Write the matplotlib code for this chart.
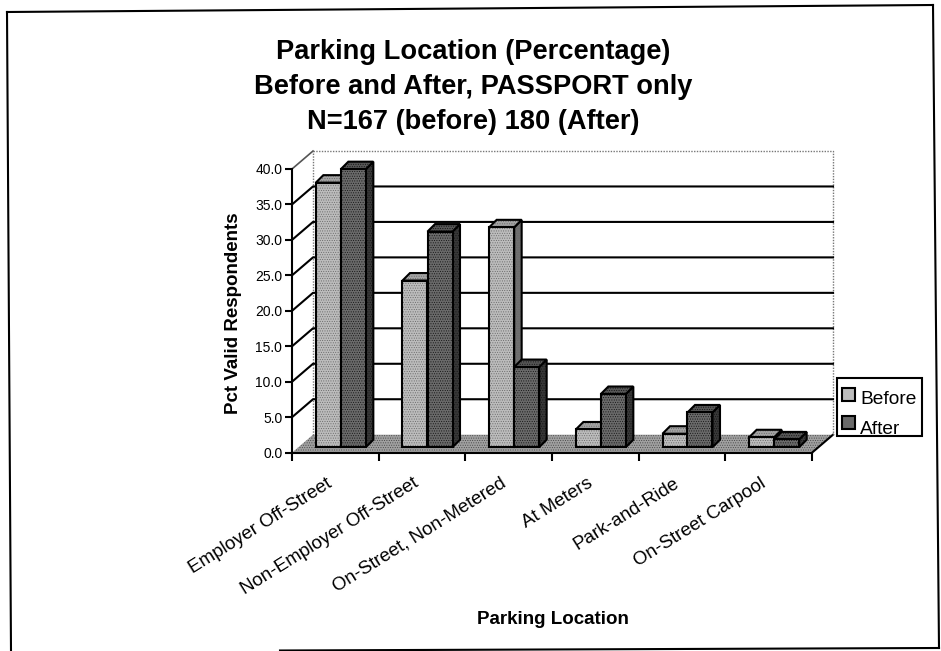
"""
Parking location before and after, fake 3D bars on a matplotlib axes.
"""

import matplotlib
matplotlib.use('Agg')
import matplotlib.pyplot as plt
from matplotlib.lines import Line2D
from matplotlib.patches import Polygon, Rectangle
from matplotlib.transforms import ScaledTranslation

plt.rcParams['font.family'] = ['Liberation Sans', 'DejaVu Sans']
plt.rcParams['hatch.linewidth'] = 0.4

categories = ['Employer Off-Street', 'Non-Employer Off-Street', 'On-Street, Non-Metered',
              'At Meters', 'Park-and-Ride', 'On-Street Carpool']
before = [37.3, 23.5, 31.0, 2.5, 1.9, 1.4]
after = [39.2, 30.4, 11.3, 7.5, 4.9, 1.1]
y_ticks = [0, 5, 10, 15, 20, 25, 30, 35, 40]
title_lines = ['Parking Location (Percentage)', 'Before and After, PASSPORT only',
               'N=167 (before) 180 (After)']

W, H = 941, 651
fig = plt.figure(figsize=(W / 100, H / 100), dpi=100, facecolor='white')


def fx(px):
    return px / W


def fy(px):
    return 1 - px / H


# front plane of the chart, everything else is offset from it in data units
left, right, y0, y40 = 292, 812, 452.7, 169
ax = fig.add_axes([fx(left), fy(y0), (right - left) / W, (y0 - y40) / H])
ax.set_xlim(0, 6)
ax.set_ylim(0, 40)
ax.patch.set_visible(False)

px_x = 6 / (right - left)
px_y = 40 / (y0 - y40)
wall_dx, wall_dy = 21 * px_x, 18 * px_y
front_dx, front_dy = 5.5 * px_x, 5.5 * px_y
side_dx, side_dy = 7.5 * px_x, 7.5 * px_y
bar_w = 25 * px_x
gap = (1 - 2 * bar_w) / 2


def shape(points, color, dots, z):
    # stippled fill first, outline on top, like the scanned print
    ax.add_patch(Polygon(points, closed=True, facecolor=color, edgecolor=dots, hatch='.......', lw=0,
                         clip_on=False, zorder=z))
    ax.add_patch(Polygon(points, closed=True, fill=False, edgecolor='black', lw=1.5, clip_on=False, zorder=z))


# floor
ax.add_patch(Polygon([(0, 0), (6, 0), (6 + wall_dx, wall_dy), (wall_dx, wall_dy)],
                     closed=True, facecolor='#a0a0a0', edgecolor='#444444', hatch='.......', lw=0,
                     clip_on=False, zorder=1))
ax.plot([6, 6 + wall_dx], [0, wall_dy], color='black', lw=1.5, clip_on=False, zorder=2)

# walls and grid
ax.plot([wall_dx, wall_dx], [wall_dy, 40 + wall_dy], color='#777777', lw=1, ls=(0, (1, 1)),
        clip_on=False, zorder=2)
ax.plot([wall_dx, 6 + wall_dx, 6 + wall_dx], [40 + wall_dy, 40 + wall_dy, wall_dy], color='#777777',
        lw=1, ls=(0, (1, 1)), clip_on=False, zorder=2)
for v in y_ticks[1:-1]:
    ax.plot([0, wall_dx, 6 + wall_dx], [v, v + wall_dy, v + wall_dy], color='black', lw=1.5,
            clip_on=False, zorder=2)
ax.plot([0, wall_dx], [40, 40 + wall_dy], color='#555555', lw=1.2, clip_on=False, zorder=2)


def draw_bar(x, value, face, top, side, dots, z):
    x0 = x + front_dx
    y1 = front_dy + value
    shape([(x0 + bar_w, front_dy), (x0 + bar_w + side_dx, front_dy + side_dy),
           (x0 + bar_w + side_dx, y1 + side_dy), (x0 + bar_w, y1)], side, dots, z)
    shape([(x0, y1), (x0 + bar_w, y1), (x0 + bar_w + side_dx, y1 + side_dy),
           (x0 + side_dx, y1 + side_dy)], top, dots, z)
    ax.bar(x0, value, bar_w, bottom=front_dy, align='edge', color=face, edgecolor=dots, hatch='.......',
           lw=0, clip_on=False, zorder=z)
    ax.bar(x0, value, bar_w, bottom=front_dy, align='edge', fill=False, edgecolor='black', lw=1.5,
           clip_on=False, zorder=z)


z = 3
for i in range(len(categories)):
    draw_bar(i + gap, before[i], '#bcbcbc', '#a4a4a4', '#707070', '#666666', z)
    draw_bar(i + gap + bar_w, after[i], '#6a6a6a', '#565656', '#383838', '#111111', z + 1)
    z += 2

# axes
for name in ['top', 'right']:
    ax.spines[name].set_visible(False)
for name in ['left', 'bottom']:
    ax.spines[name].set_linewidth(1.5)
ax.set_yticks(y_ticks)
ax.set_yticklabels([f'{v:.1f}' for v in y_ticks], fontsize=10)
ax.tick_params(axis='y', length=5, width=1.5, pad=2)
ax.set_xticks(range(7))
ax.set_xticklabels([])
ax.tick_params(axis='x', which='major', length=6, width=1.5)
ax.set_xticks([i + 0.5 for i in range(6)], minor=True)
labels = ax.set_xticklabels(categories, minor=True, fontsize=13.5, rotation=32, ha='right',
                            rotation_mode='anchor')
ax.tick_params(axis='x', which='minor', length=0, pad=16)
# labels end a little left of the group centre
shift = ScaledTranslation(-9 / 100, 0, fig.dpi_scale_trans)
for lab in labels:
    lab.set_transform(lab.get_transform() + shift)

fig.text(fx(234), fy(313), 'Pct Valid Respondents', rotation=90, ha='center', va='center',
         fontsize=13.5, fontweight='bold')
fig.text(fx(553), fy(620), 'Parking Location', ha='center', va='center', fontsize=13.5,
         fontweight='bold')
for line, base in zip(title_lines, [59, 94, 129]):
    fig.text(fx(473), fy(base), line, ha='center', va='baseline', fontsize=19.6, fontweight='bold')

# legend box, the After label sits right on the lower edge as in the print
fig.add_artist(Rectangle((fx(837), fy(436)), 85 / W, 58 / H, transform=fig.transFigure,
                         facecolor='white', edgecolor='black', lw=1.5))
for label, color, box_top, base in [('Before', '#bcbcbc', 388, 404), ('After', '#6a6a6a', 416, 434)]:
    fig.add_artist(Rectangle((fx(842), fy(box_top + 13)), 13 / W, 13 / H, transform=fig.transFigure,
                             facecolor=color, edgecolor='black', lw=1.5))
    fig.text(fx(860), fy(base), label, ha='left', va='baseline', fontsize=13.8)

# scanned page frame, slightly rotated
frame = dict(color='black', lw=1.5, transform=fig.transFigure)
fig.add_artist(Line2D([fx(7), fx(933)], [fy(12), fy(5)], **frame))
fig.add_artist(Line2D([fx(7), fx(11)], [fy(12), fy(651)], **frame))
fig.add_artist(Line2D([fx(933), fx(939)], [fy(5), fy(648)], **frame))
fig.add_artist(Line2D([fx(280), fx(939)], [fy(650.5), fy(648)], **frame))

fig.savefig('out.png', dpi=100)
